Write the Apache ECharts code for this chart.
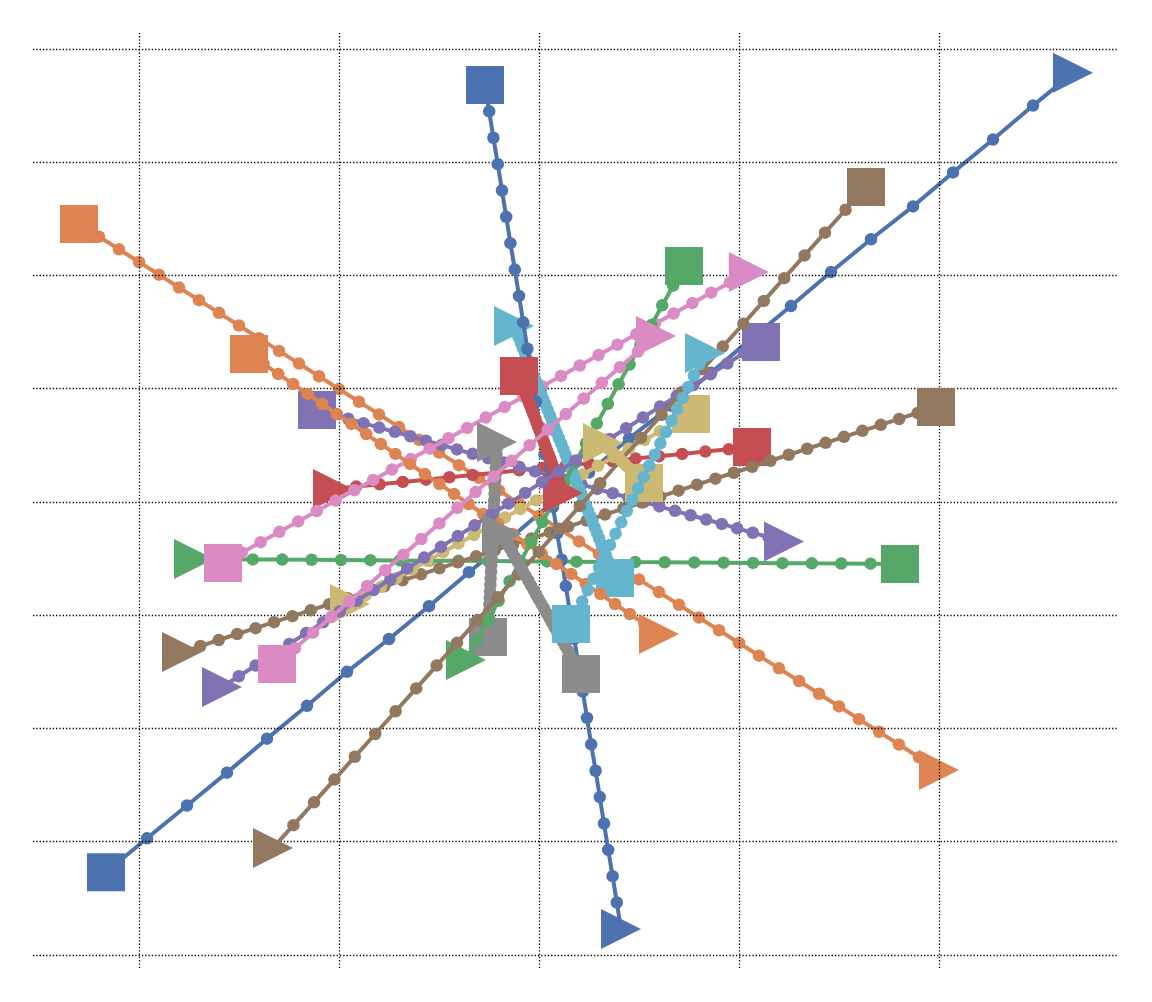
<!DOCTYPE html>
<html>
<head>
<meta charset="utf-8">
<script src="https://cdn.jsdelivr.net/npm/echarts@6/dist/echarts.min.js"></script>
<style>
  html, body { margin: 0; padding: 0; background: #fff; }
  #chart { width: 1152px; height: 1002px; }
</style>
</head>
<body>
<div id="chart"></div>
<script>
// grid positions (no tick labels in the picture)
const xGrid = [-2, -1, 0, 1, 2];
const yGrid = [-4, -3, -2, -1, 0, 1, 2, 3, 4];

// blue
const blueAx = [-2.165,-1.96,-1.76,-1.56,-1.36,-1.16,-0.96,-0.75,-0.55,-0.35,-0.15,0.05,0.25,0.45,0.66,0.86,1.06,1.26,1.46,1.66,1.87,2.07,2.27,2.47,2.67];
const blueAy = [-3.27,-2.97,-2.68,-2.39,-2.09,-1.80,-1.50,-1.21,-0.92,-0.62,-0.33,-0.03,0.26,0.56,0.85,1.14,1.44,1.73,2.03,2.32,2.61,2.91,3.20,3.50,3.79];
const blueBx = [-0.270,-0.249,-0.228,-0.206,-0.185,-0.164,-0.143,-0.121,-0.100,-0.079,-0.058,-0.036,-0.015,0.006,0.028,0.049,0.070,0.091,0.113,0.134,0.155,0.176,0.198,0.219,0.240,0.261,0.283,0.304,0.325,0.346,0.368,0.389,0.410];
const blueBy = [3.682,3.449,3.216,2.983,2.750,2.518,2.285,2.052,1.819,1.586,1.353,1.120,0.887,0.655,0.422,0.189,-0.044,-0.277,-0.510,-0.743,-0.976,-1.208,-1.441,-1.674,-1.907,-2.140,-2.373,-2.606,-2.839,-3.072,-3.304,-3.537,-3.770];

// orange
const orangeAx = [-2.30,-2.20,-2.10,-2.00,-1.90,-1.80,-1.70,-1.60,-1.50,-1.40,-1.30,-1.20,-1.10,-1.00,-0.90,-0.80,-0.70,-0.60,-0.50,-0.40,-0.30,-0.20,-0.10,0.00,0.10,0.20,0.30,0.40,0.50,0.60,0.70,0.80,0.90,1.00,1.10,1.20,1.30,1.40,1.50,1.60,1.70,1.80,1.90,2.00];
const orangeAy = [2.455,2.343,2.231,2.119,2.007,1.894,1.782,1.670,1.558,1.446,1.334,1.222,1.110,0.997,0.885,0.773,0.661,0.549,0.437,0.325,0.213,0.101,-0.012,-0.124,-0.236,-0.348,-0.460,-0.572,-0.684,-0.796,-0.908,-1.021,-1.133,-1.245,-1.357,-1.469,-1.581,-1.693,-1.805,-1.918,-2.030,-2.142,-2.254,-2.366];
const orangeBx = [-1.450,-1.377,-1.304,-1.230,-1.157,-1.084,-1.011,-0.938,-0.864,-0.791,-0.718,-0.645,-0.571,-0.498,-0.425,-0.352,-0.279,-0.205,-0.132,-0.059,0.014,0.087,0.161,0.234,0.307,0.380,0.454,0.527,0.600];
const orangeBy = [1.307,1.219,1.130,1.042,0.954,0.865,0.777,0.689,0.600,0.512,0.424,0.336,0.247,0.159,0.071,-0.018,-0.106,-0.194,-0.283,-0.371,-0.459,-0.548,-0.636,-0.724,-0.813,-0.901,-0.989,-1.077,-1.166];

// green
const greenAx = [1.805,1.658,1.511,1.364,1.217,1.070,0.923,0.776,0.628,0.481,0.334,0.187,0.040,-0.107,-0.254,-0.402,-0.549,-0.696,-0.843,-0.990,-1.137,-1.284,-1.431,-1.578,-1.725];
const greenAy = [-0.547,-0.545,-0.543,-0.542,-0.540,-0.538,-0.536,-0.534,-0.532,-0.531,-0.529,-0.527,-0.525,-0.523,-0.521,-0.520,-0.518,-0.516,-0.514,-0.512,-0.510,-0.509,-0.507,-0.505,-0.503];
const greenBx = [0.725,0.671,0.616,0.562,0.507,0.453,0.398,0.344,0.289,0.235,0.180,0.126,0.071,0.017,-0.038,-0.093,-0.147,-0.202,-0.256,-0.311,-0.365];
const greenBy = [2.084,1.910,1.736,1.562,1.388,1.214,1.040,0.866,0.692,0.518,0.345,0.171,-0.003,-0.177,-0.351,-0.525,-0.699,-0.873,-1.047,-1.221,-1.395];

// red
const redAx = [1.065,0.949,0.832,0.716,0.599,0.483,0.367,0.250,0.134,0.017,-0.099,-0.215,-0.332,-0.448,-0.565,-0.681,-0.797,-0.914,-1.030];
const redAy = [0.486,0.465,0.445,0.424,0.404,0.383,0.362,0.342,0.321,0.301,0.280,0.259,0.239,0.218,0.197,0.177,0.156,0.136,0.115];
const redBx = [-0.100,-0.093,-0.085,-0.078,-0.071,-0.063,-0.056,-0.049,-0.041,-0.034,-0.027,-0.019,-0.012,-0.005,0.003,0.010,0.017,0.025,0.032,0.039,0.047,0.054,0.061,0.069,0.076,0.083,0.091,0.098,0.105,0.113,0.120];
const redBy = [1.113,1.079,1.044,1.010,0.975,0.941,0.906,0.872,0.837,0.803,0.769,0.734,0.700,0.665,0.631,0.596,0.562,0.527,0.493,0.458,0.424,0.390,0.355,0.321,0.286,0.252,0.217,0.183,0.148,0.114,0.079];

// purple
const purpleAx = [-1.110,-1.032,-0.954,-0.877,-0.799,-0.721,-0.643,-0.565,-0.487,-0.410,-0.332,-0.254,-0.176,-0.098,-0.020,0.057,0.135,0.213,0.291,0.369,0.447,0.524,0.602,0.680,0.758,0.836,0.914,0.991,1.069,1.147,1.225];
const purpleAy = [0.812,0.773,0.735,0.696,0.657,0.619,0.580,0.541,0.502,0.464,0.425,0.386,0.348,0.309,0.270,0.232,0.193,0.154,0.115,0.077,0.038,-0.001,-0.039,-0.078,-0.117,-0.155,-0.194,-0.233,-0.272,-0.310,-0.349];
const purpleBx = [1.110,1.026,0.942,0.857,0.773,0.689,0.605,0.520,0.436,0.352,0.268,0.184,0.099,0.015,-0.069,-0.153,-0.238,-0.322,-0.406,-0.490,-0.574,-0.659,-0.743,-0.827,-0.911,-0.996,-1.080,-1.164,-1.248,-1.332,-1.417,-1.501,-1.585];
const purpleBy = [1.413,1.318,1.223,1.127,1.032,0.937,0.842,0.746,0.651,0.556,0.461,0.366,0.270,0.175,0.080,-0.015,-0.111,-0.206,-0.301,-0.396,-0.491,-0.587,-0.682,-0.777,-0.872,-0.968,-1.063,-1.158,-1.253,-1.348,-1.444,-1.539,-1.634];

// brown
const brownAx = [1.985,1.893,1.801,1.709,1.617,1.525,1.433,1.341,1.249,1.157,1.066,0.974,0.882,0.790,0.698,0.606,0.514,0.422,0.330,0.238,0.146,0.054,-0.038,-0.130,-0.222,-0.314,-0.406,-0.498,-0.590,-0.682,-0.774,-0.865,-0.957,-1.049,-1.141,-1.233,-1.325,-1.417,-1.509,-1.601,-1.693,-1.785];
const brownAy = [0.839,0.786,0.733,0.681,0.628,0.575,0.522,0.470,0.417,0.364,0.311,0.258,0.206,0.153,0.100,0.047,-0.005,-0.058,-0.111,-0.164,-0.217,-0.269,-0.322,-0.375,-0.428,-0.480,-0.533,-0.586,-0.639,-0.692,-0.744,-0.797,-0.850,-0.903,-0.955,-1.008,-1.061,-1.114,-1.166,-1.219,-1.272,-1.325];
const brownBx = [1.635,1.533,1.430,1.328,1.226,1.124,1.022,0.919,0.817,0.715,0.613,0.510,0.408,0.306,0.204,0.101,-0.001,-0.103,-0.205,-0.308,-0.410,-0.512,-0.614,-0.717,-0.819,-0.921,-1.023,-1.125,-1.228,-1.330];
const brownBy = [2.781,2.580,2.378,2.177,1.976,1.775,1.574,1.372,1.171,0.970,0.769,0.567,0.366,0.165,-0.036,-0.238,-0.439,-0.640,-0.841,-1.043,-1.244,-1.445,-1.646,-1.848,-2.049,-2.250,-2.451,-2.652,-2.854,-3.055];

// pink
const pinkAx = [-1.580,-1.486,-1.392,-1.298,-1.204,-1.111,-1.017,-0.923,-0.829,-0.735,-0.641,-0.547,-0.453,-0.359,-0.266,-0.172,-0.078,0.016,0.110,0.204,0.298,0.392,0.486,0.579,0.673,0.767,0.861,0.955,1.049];
const pinkAy = [-0.539,-0.447,-0.355,-0.264,-0.172,-0.080,0.012,0.104,0.195,0.287,0.379,0.471,0.562,0.654,0.746,0.838,0.930,1.021,1.113,1.205,1.297,1.389,1.480,1.572,1.664,1.756,1.848,1.939,2.031];
const pinkBx = [-1.310,-1.220,-1.130,-1.039,-0.949,-0.859,-0.769,-0.678,-0.588,-0.498,-0.408,-0.317,-0.227,-0.137,-0.047,0.044,0.134,0.224,0.314,0.405,0.495,0.585];
const pinkBy = [-1.430,-1.292,-1.154,-1.016,-0.879,-0.741,-0.603,-0.465,-0.327,-0.189,-0.051,0.087,0.225,0.363,0.501,0.638,0.776,0.914,1.052,1.190,1.328,1.466];

// gray
const grayAx = [-0.255,-0.254,-0.252,-0.251,-0.249,-0.248,-0.246,-0.245,-0.243,-0.242,-0.240,-0.239,-0.237,-0.236,-0.234,-0.233,-0.231,-0.230,-0.228,-0.227,-0.225,-0.224,-0.222,-0.221,-0.219,-0.218,-0.216,-0.215,-0.213,-0.212,-0.210];
const grayAy = [-1.192,-1.135,-1.077,-1.020,-0.962,-0.905,-0.848,-0.790,-0.733,-0.675,-0.618,-0.561,-0.503,-0.446,-0.389,-0.331,-0.274,-0.216,-0.159,-0.102,-0.044,0.013,0.071,0.128,0.185,0.243,0.300,0.358,0.415,0.472,0.530];
const grayBx = [0.210,0.197,0.184,0.170,0.157,0.144,0.131,0.118,0.105,0.091,0.078,0.065,0.052,0.039,0.026,0.012,-0.001,-0.014,-0.027,-0.040,-0.053,-0.067,-0.080,-0.093,-0.106,-0.119,-0.132,-0.146,-0.159,-0.172,-0.185];
const grayBy = [-1.519,-1.478,-1.437,-1.395,-1.354,-1.313,-1.272,-1.231,-1.189,-1.148,-1.107,-1.066,-1.025,-0.983,-0.942,-0.901,-0.860,-0.819,-0.777,-0.736,-0.695,-0.654,-0.613,-0.571,-0.530,-0.489,-0.448,-0.407,-0.365,-0.324,-0.283];

// olive
const oliveAx = [0.760,0.683,0.605,0.528,0.450,0.373,0.295,0.218,0.140,0.063,-0.015,-0.093,-0.170,-0.248,-0.325,-0.403,-0.480,-0.558,-0.635,-0.713,-0.790,-0.868,-0.945];
const oliveAy = [0.777,0.701,0.625,0.548,0.472,0.396,0.319,0.243,0.167,0.091,0.014,-0.062,-0.138,-0.215,-0.291,-0.367,-0.443,-0.520,-0.596,-0.672,-0.749,-0.825,-0.901];
const oliveBx = [0.525,0.510,0.496,0.481,0.466,0.452,0.437,0.423,0.408,0.393,0.379,0.364,0.349,0.335,0.320];
const oliveBy = [0.168,0.193,0.218,0.244,0.269,0.294,0.319,0.344,0.370,0.395,0.420,0.445,0.470,0.496,0.521];

// cyan
const cyanAx = [0.380,0.369,0.358,0.346,0.335,0.324,0.313,0.301,0.290,0.279,0.268,0.257,0.245,0.234,0.223,0.212,0.200,0.189,0.178,0.167,0.156,0.144,0.133,0.122,0.111,0.099,0.088,0.077,0.066,0.055,0.043,0.032,0.021,0.010,-0.001,-0.013,-0.024,-0.035,-0.046,-0.058,-0.069,-0.080,-0.091,-0.102,-0.114,-0.125];
const cyanAy = [-0.671,-0.622,-0.572,-0.523,-0.473,-0.424,-0.374,-0.325,-0.275,-0.226,-0.177,-0.127,-0.078,-0.028,0.021,0.071,0.120,0.169,0.219,0.268,0.318,0.367,0.417,0.466,0.516,0.565,0.614,0.664,0.713,0.763,0.812,0.862,0.911,0.961,1.010,1.059,1.109,1.158,1.208,1.257,1.307,1.356,1.406,1.455,1.504,1.554];
const cyanBx = [0.160,0.188,0.216,0.244,0.272,0.300,0.328,0.355,0.383,0.411,0.439,0.467,0.495,0.523,0.551,0.579,0.607,0.635,0.663,0.690,0.718,0.746,0.774,0.802,0.830];
const cyanBy = [-1.077,-0.977,-0.878,-0.778,-0.678,-0.579,-0.479,-0.379,-0.280,-0.180,-0.080,0.020,0.119,0.219,0.319,0.418,0.518,0.618,0.717,0.817,0.917,1.016,1.116,1.216,1.316];

const deep = ['#4C72B0', '#DD8452', '#55A868', '#C44E52', '#8172B3', '#937860', '#DA8BC3', '#8C8C8C', '#CCB974', '#64B5CD'];

// drawing order: one pass through the colour cycle, then the second
const lines = [
  [blueAx, blueAy], [orangeAx, orangeAy], [greenAx, greenAy], [redAx, redAy], [purpleAx, purpleAy],
  [brownAx, brownAy], [pinkAx, pinkAy], [grayAx, grayAy], [oliveAx, oliveAy], [cyanAx, cyanAy],
  [blueBx, blueBy], [orangeBx, orangeBy], [greenBx, greenBy], [redBx, redBy], [purpleBx, purpleBy],
  [brownBx, brownBy], [pinkBx, pinkBy], [grayBx, grayBy], [oliveBx, oliveBy], [cyanBx, cyanBy]
];

const chart = echarts.init(document.getElementById('chart'));

const makeSeries = (xs, ys, idx) => {
  const last = xs.length - 1;
  const data = xs.map((x, i) => {
    if (i === 0) return { value: [x, ys[i]], symbol: 'rect', symbolSize: 38 };
    if (i === last) return { value: [x, ys[i]], symbol: 'triangle', symbolSize: 40, symbolRotate: -90 };
    return { value: [x, ys[i]], symbol: 'circle', symbolSize: 12.5 };
  });
  return {
    type: 'line',
    data: data,
    z: 3 + idx,
    showAllSymbol: true,
    silent: true,
    lineStyle: { color: deep[idx % 10], width: 4 },
    itemStyle: { color: deep[idx % 10], borderWidth: 0 },
    emphasis: { disabled: true }
  };
};

const series = lines.map((l, i) => makeSeries(l[0], l[1], i));

// dotted grid drawn as mark lines
series.unshift({
  type: 'line',
  data: [],
  z: 1,
  silent: true,
  markLine: {
    silent: true,
    symbol: ['none', 'none'],
    label: { show: false },
    animation: false,
    lineStyle: { color: '#000', width: 1.3, type: [1.3, 2] },
    data: xGrid.map(v => ({ xAxis: v })).concat(yGrid.map(v => ({ yAxis: v })))
  }
});

chart.setOption({
  animation: false,
  backgroundColor: '#fff',
  grid: { left: 33, top: 33, right: 34, bottom: 34 },
  xAxis: { type: 'value', min: -2.53, max: 2.895, show: false },
  yAxis: { type: 'value', min: -4.115, max: 4.141, show: false },
  series: series
});
</script>
</body>
</html>
